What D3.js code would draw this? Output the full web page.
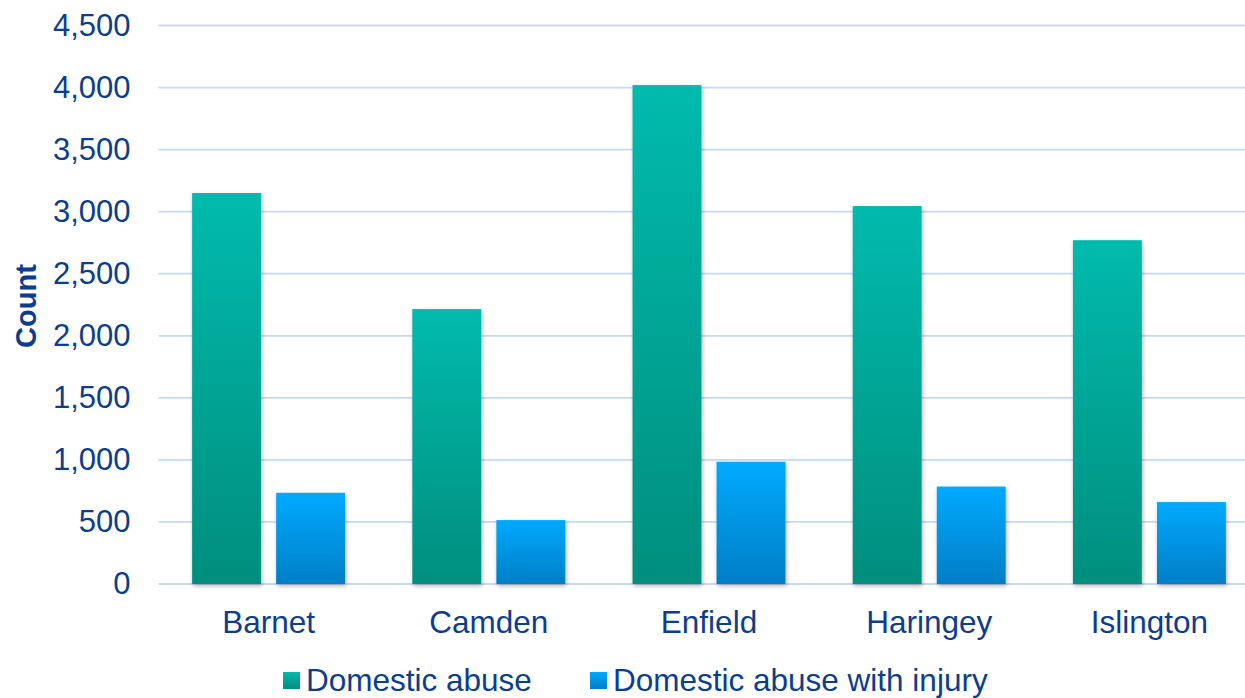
<!DOCTYPE html>
<html>
<head>
<meta charset="utf-8">
<script src="https://cdn.jsdelivr.net/npm/d3@7"></script>
<style>
  body { margin: 0; background: #fff; }
  text { font-family: "Liberation Sans", Arial, sans-serif; fill: #0c3d8f; }
</style>
</head>
<body>
<script>
var categories = ["Barnet", "Camden", "Enfield", "Haringey", "Islington"];
var seriesNames = ["Domestic abuse", "Domestic abuse with injury"];
var domesticAbuse = [3150, 2215, 4020, 3045, 2770];
var abuseWithInjury = [735, 515, 985, 785, 660];
var yTicks = [0, 500, 1000, 1500, 2000, 2500, 3000, 3500, 4000, 4500];

var width = 1245, height = 698;
var plotLeft = 158.5, plotRight = 1259.5, plotTop = 25.5, plotBottom = 584;

var svg = d3.select("body").append("svg").attr("width", width).attr("height", height);
var defs = svg.append("defs");

function grad(id, c1, c2) {
  var g = defs.append("linearGradient").attr("id", id)
    .attr("x1", 0).attr("y1", 0).attr("x2", 0).attr("y2", 1);
  g.append("stop").attr("offset", "0%").attr("stop-color", c1);
  g.append("stop").attr("offset", "100%").attr("stop-color", c2);
}
grad("gGreen", "#00bbad", "#008e7e");
grad("gBlue", "#00aaff", "#007ec6");

var f = defs.append("filter").attr("id", "shadow")
  .attr("x", "-20%").attr("y", "-5%").attr("width", "140%").attr("height", "115%");
f.append("feDropShadow").attr("dx", 1).attr("dy", 2).attr("stdDeviation", 2)
  .attr("flood-color", "#000").attr("flood-opacity", 0.3);

var x0 = d3.scaleBand().domain(categories).range([plotLeft, plotRight]).padding(0);
var x1 = d3.scaleBand().domain(seriesNames).range([0, x0.bandwidth()])
  .paddingInner(0.18).paddingOuter(0.4);
var y = d3.scaleLinear().domain([0, 4500]).range([plotBottom, plotTop]);

// grid
svg.append("g").selectAll("line").data(yTicks).enter().append("line")
  .attr("x1", plotLeft).attr("x2", width)
  .attr("y1", function(d){ return y(d); }).attr("y2", function(d){ return y(d); })
  .attr("stroke", "#c6d9f8").attr("stroke-width", 1.8);

// y axis labels
var yAxis = d3.axisLeft(y).tickValues(yTicks).tickFormat(d3.format(",")).tickSize(0).tickPadding(28);
var ya = svg.append("g").attr("transform", "translate(" + plotLeft + ",0)").call(yAxis);
ya.select(".domain").remove();
ya.selectAll("text").style("font-size", "31px").attr("fill", "#0c3d8f")
  .style("font-family", "'Liberation Sans', Arial, sans-serif");

// x labels
var xAxis = d3.axisBottom(x0).tickSize(0).tickPadding(27);
var xa = svg.append("g").attr("transform", "translate(0," + plotBottom + ")").call(xAxis);
xa.select(".domain").remove();
xa.selectAll("text").style("font-size", "31.5px").attr("fill", "#0c3d8f")
  .style("font-family", "'Liberation Sans', Arial, sans-serif");

// bars
var rows = categories.map(function(c, i){
  return [
    { cat: c, s: seriesNames[0], v: domesticAbuse[i], fill: "url(#gGreen)" },
    { cat: c, s: seriesNames[1], v: abuseWithInjury[i], fill: "url(#gBlue)" }
  ];
});

var groups = svg.append("g").selectAll("g").data(rows).enter().append("g")
  .attr("transform", function(d){ return "translate(" + x0(d[0].cat) + ",0)"; });

groups.selectAll("rect").data(function(d){ return d; }).enter().append("rect")
  .attr("x", function(d){ return x1(d.s); })
  .attr("width", x1.bandwidth())
  .attr("y", function(d){ return y(d.v); })
  .attr("height", function(d){ return y(0) - y(d.v); })
  .attr("fill", function(d){ return d.fill; })
  .attr("filter", "url(#shadow)");

// y title
svg.append("text")
  .attr("transform", "translate(36,306) rotate(-90)")
  .attr("text-anchor", "middle")
  .style("font-size", "29px").style("font-weight", "bold")
  .text("Count");

// legend
var legendX = [283, 590];
var lg = svg.append("g").selectAll("g").data(seriesNames).enter().append("g")
  .attr("transform", function(d, i){ return "translate(" + legendX[i] + ",672)"; });
lg.append("rect").attr("width", 17).attr("height", 17)
  .attr("fill", function(d, i){ return i === 0 ? "url(#gGreen)" : "url(#gBlue)"; });
lg.append("text").attr("x", 23).attr("y", 19)
  .style("font-size", "31.5px")
  .text(function(d){ return d; });
</script>
</body>
</html>
